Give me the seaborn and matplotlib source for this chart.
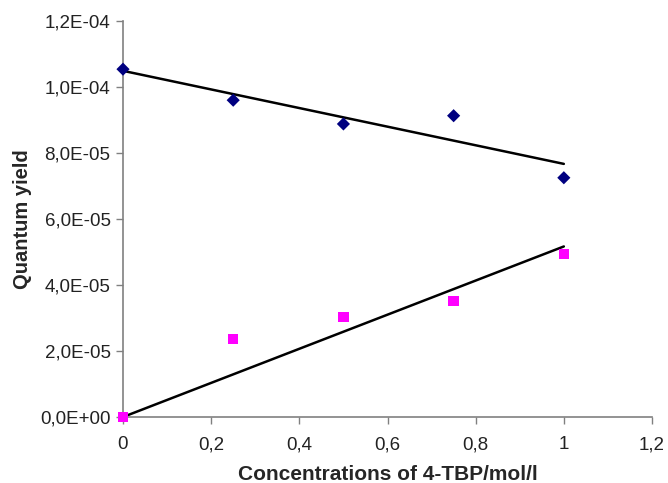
import numpy as np
import pandas as pd
import matplotlib
matplotlib.use("Agg")
import matplotlib.pyplot as plt
import seaborn as sns
from matplotlib.ticker import FuncFormatter, MultipleLocator

conc = [0.0, 0.25, 0.5, 0.75, 1.0]
series_a = [1.054e-4, 9.6e-5, 8.88e-5, 9.13e-5, 7.25e-5]
series_b = [0.0, 2.36e-5, 3.04e-5, 3.52e-5, 4.94e-5]

sns.set_style("white")
plt.rcParams['font.family'] = ['Liberation Sans', 'DejaVu Sans']

fig = plt.figure(figsize=(6.68, 4.83), dpi=100)
ax = fig.add_axes([123/668, 1-417/483, (652-123)/668, (417-21)/483])

x = np.array(conc)
ya = np.array(series_a)
yb = np.array(series_b)

# linear trend for series A
pa = np.polyfit(x, ya, 1)
# trend through origin for series B
kb = np.sum(x*yb)/np.sum(x*x)
xl = np.array([x.min(), x.max()])
ax.plot(xl, np.polyval(pa, xl), color='black', lw=1.8, zorder=2)
ax.plot(xl, kb*xl, color='black', lw=1.8, zorder=2)

df = pd.DataFrame({'x': conc, 'a': series_a, 'b': series_b})
sns.scatterplot(data=df, x='x', y='a', marker='D', color='#000080', s=45,
                edgecolor='none', ax=ax, zorder=3, clip_on=False)
sns.scatterplot(data=df, x='x', y='b', marker='s', color='#FF00FF', s=55,
                edgecolor='none', ax=ax, zorder=3, clip_on=False)

ax.set_xlim(0, 1.2)
ax.set_ylim(0, 1.2e-4)
ax.xaxis.set_major_locator(MultipleLocator(0.2))
ax.yaxis.set_major_locator(MultipleLocator(2e-5))
ax.xaxis.set_major_formatter(FuncFormatter(lambda v, p: f"{round(v, 1):g}".replace('.', ',')))
ax.yaxis.set_major_formatter(FuncFormatter(lambda v, p: f"{v:.1E}".replace('.', ',')))

for s in ['top', 'right']:
    ax.spines[s].set_visible(False)
for s in ['left', 'bottom']:
    ax.spines[s].set_color('#808080')
    ax.spines[s].set_linewidth(1.2)
ax.tick_params(axis='both', which='major', direction='out', length=5, width=1,
               color='#808080', labelsize=13.5, labelcolor='#222222', left=True, bottom=True)
ax.tick_params(axis='x', pad=9)
ax.tick_params(axis='y', pad=4)

ax.set_xlabel('Concentrations of 4-TBP/mol/l', fontsize=15, fontweight='bold', labelpad=8)
ax.set_ylabel('Quantum yield', fontsize=14.5, fontweight='bold', labelpad=6)

fig.savefig('out.png', dpi=100)
